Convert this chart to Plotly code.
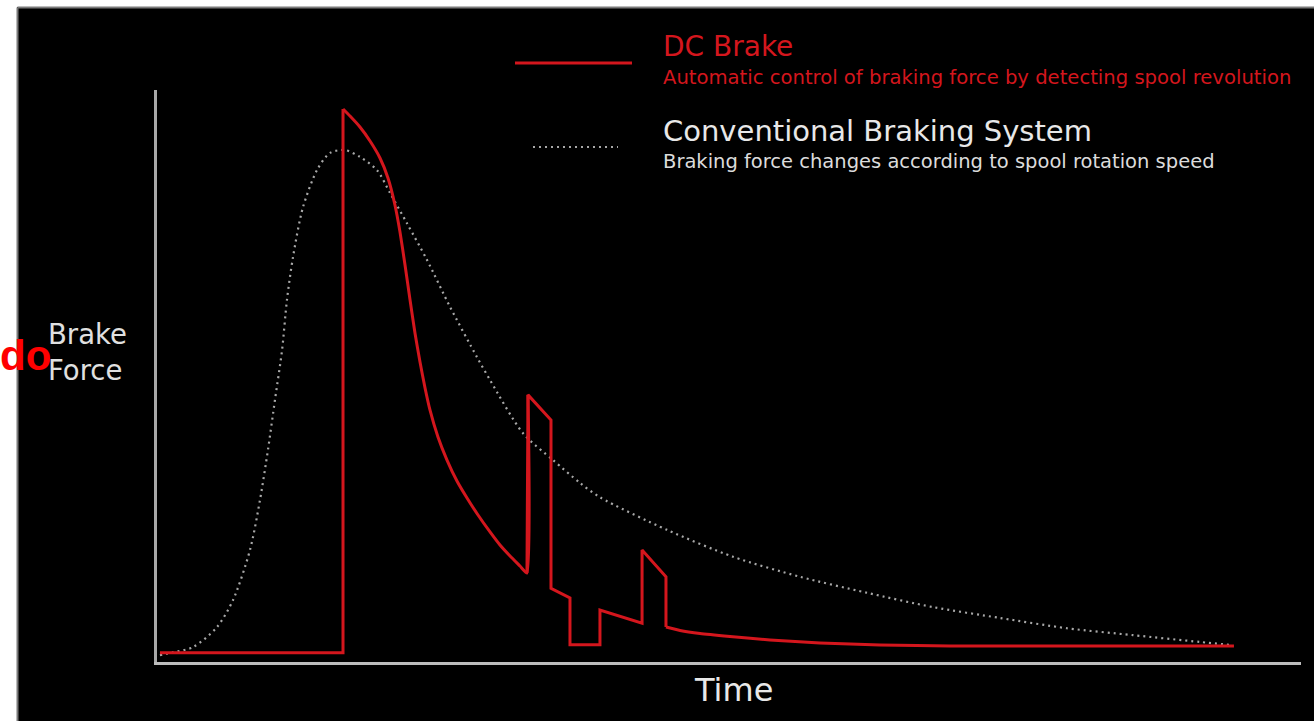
import plotly.graph_objects as go

# ---- data (time units 0-100, brake force units 0-100) ----
# DC Brake: idle, jump at engagement, smooth decay, control pulses, smooth tail
dc_time = [0.26, 16.26,
           16.26, 16.87, 17.74, 18.62, 19.49, 20.19, 20.80, 21.24, 21.68, 22.12, 22.55,
           22.99, 23.43, 23.86, 24.56, 25.35, 26.22, 27.10, 28.06, 29.11, 29.98, 30.86,
           31.73, 32.34,
           32.43, 34.44, 34.44, 36.10, 36.10, 38.72, 38.72, 42.40, 42.40, 44.49,
           44.49, 45.72, 47.47, 50.09, 53.58, 57.95, 63.20, 69.32, 94.14]
dc_force = [1.6, 1.6,
            96.68, 95.45, 93.53, 91.08, 88.11, 84.62, 79.90, 75.17, 69.41, 63.29, 57.52,
            52.45, 47.90, 44.06, 39.34, 35.31, 31.64, 28.67, 25.70, 22.73, 20.45, 18.53,
            16.78, 15.56,
            46.7, 42.3, 12.9, 11.2, 3.0, 3.0, 9.1, 6.8, 19.6, 14.9,
            6.12, 5.51, 4.98, 4.46, 3.85, 3.32, 2.97, 2.80, 2.80]

conv_time = [0.26, 1.40, 3.15, 5.24, 6.64, 8.13, 9.00, 9.70, 10.31, 10.93, 11.36, 11.89,
             12.76, 13.99, 15.12, 16.43, 17.74, 19.23, 20.37, 21.85, 23.60, 25.61, 27.97,
             29.11, 31.99, 34.62, 36.98, 38.72, 44.58, 50.35, 56.21, 62.06, 67.83, 73.69,
             79.55, 85.31, 91.17, 93.79]
conv_force = [1.2, 1.7, 2.6, 6.1, 10.8, 19.6, 28.3, 37.1, 45.8, 54.5, 63.3, 70.8,
              79.5, 86.0, 89.0, 89.5, 88.3, 86.0, 82.0, 76.7, 70.3, 62.1, 53.3,
              49.3, 40.0, 35.3, 31.3, 28.8, 23.1, 18.4, 14.9, 12.1, 9.6, 7.7,
              5.9, 4.7, 3.5, 3.0]

dc_name = "DC Brake"
dc_desc = "Automatic control of braking force by detecting spool revolution"
conv_name = "Conventional Braking System"
conv_desc = "Braking force changes according to spool rotation speed"
x_title = "Time"
y_title = "Brake<br>Force"

RED = "#d4161d"
GRAY = "#a8a8a8"

W, H = 1314, 721
L, R, T, B = 157, 13, 90, 59
PW, PH = W - L - R, H - T - B


def px(x):
    return (x - L) / PW


def py(y):
    return (H - B - y) / PH


FONT = "DejaVu Sans"

fig = go.Figure()
fig.add_trace(go.Scatter(x=conv_time, y=conv_force, mode="lines",
                         line=dict(color=GRAY, width=2.2, dash="2px,4px", shape="spline", smoothing=0.8),
                         showlegend=False, hoverinfo="skip"))

# DC brake drawn in segments: straight jumps, smooth decays
segments = [(0, 3, "linear"), (2, 27, "spline"), (25, 37, "linear"), (36, len(dc_time), "spline")]
for a, b, shp in segments:
    fig.add_trace(go.Scatter(x=dc_time[a:b], y=dc_force[a:b], mode="lines",
                             line=dict(color=RED, width=3, shape=shp, smoothing=0.5),
                             showlegend=False, hoverinfo="skip"))

shapes = [
    # white page margins
    dict(type="rect", xref="paper", yref="paper", x0=px(-5), x1=px(17), y0=py(730), y1=py(-5),
         fillcolor="white", line=dict(width=0), layer="below"),
    dict(type="rect", xref="paper", yref="paper", x0=px(-5), x1=px(1320), y0=py(7), y1=py(-5),
         fillcolor="white", line=dict(width=0), layer="below"),
    # panel border
    dict(type="line", xref="paper", yref="paper", x0=px(17.5), x1=px(17.5), y0=py(730), y1=py(7.5),
         line=dict(color="#7a7a7a", width=2)),
    dict(type="line", xref="paper", yref="paper", x0=px(17.5), x1=px(1320), y0=py(7.5), y1=py(7.5),
         line=dict(color="#7a7a7a", width=2)),
    # legend samples
    dict(type="line", xref="paper", yref="paper", x0=px(515), x1=px(632), y0=py(63), y1=py(63),
         line=dict(color=RED, width=3)),
    dict(type="line", xref="paper", yref="paper", x0=px(533), x1=px(618), y0=py(147), y1=py(147),
         line=dict(color=GRAY, width=2.2, dash="2px,4px")),
]

annotations = [
    dict(text=dc_name, x=px(661), y=py(47), xref="paper", yref="paper", xanchor="left",
         yanchor="middle", showarrow=False, font=dict(family=FONT, size=28, color=RED)),
    dict(text=dc_desc, x=px(661), y=py(78), xref="paper", yref="paper", xanchor="left",
         yanchor="middle", showarrow=False, font=dict(family=FONT, size=19.6, color=RED)),
    dict(text=conv_name, x=px(661), y=py(131), xref="paper", yref="paper", xanchor="left",
         yanchor="middle", showarrow=False, font=dict(family=FONT, size=29, color="#e8e8e8")),
    dict(text=conv_desc, x=px(661), y=py(162), xref="paper", yref="paper", xanchor="left",
         yanchor="middle", showarrow=False, font=dict(family=FONT, size=19.5, color="#dcdcdc")),
    dict(text=y_title, x=px(46), y=py(352), xref="paper", yref="paper", xanchor="left",
         yanchor="middle", align="left", showarrow=False,
         font=dict(family=FONT, size=27.5, color="#e0e0e0")),
    dict(text=x_title, x=px(733), y=py(690), xref="paper", yref="paper", xanchor="center",
         yanchor="middle", showarrow=False, font=dict(family=FONT, size=32, color="#e8e8e8")),
    dict(text="<b>do</b>", x=px(53), y=py(355), xref="paper", yref="paper", xanchor="right",
         yanchor="middle", showarrow=False,
         font=dict(family="Liberation Sans", size=42, color="#ff0000")),
]

fig.update_layout(
    width=W, height=H,
    margin=dict(l=L, r=R, t=T, b=B, pad=0),
    paper_bgcolor="black", plot_bgcolor="black",
    shapes=shapes, annotations=annotations,
    xaxis=dict(range=[0, 100], showline=True, linecolor="#bdbdbd", linewidth=3,
               showgrid=False, zeroline=False, showticklabels=False, ticks="", fixedrange=True),
    yaxis=dict(range=[0, 100], showline=True, linecolor="#a8a8a8", linewidth=3,
               showgrid=False, zeroline=False, showticklabels=False, ticks="", fixedrange=True),
    showlegend=False,
)

fig.write_html("out.html", config={"displayModeBar": False},
               post_script="document.body.style.margin='0';document.body.style.overflow='hidden';")
